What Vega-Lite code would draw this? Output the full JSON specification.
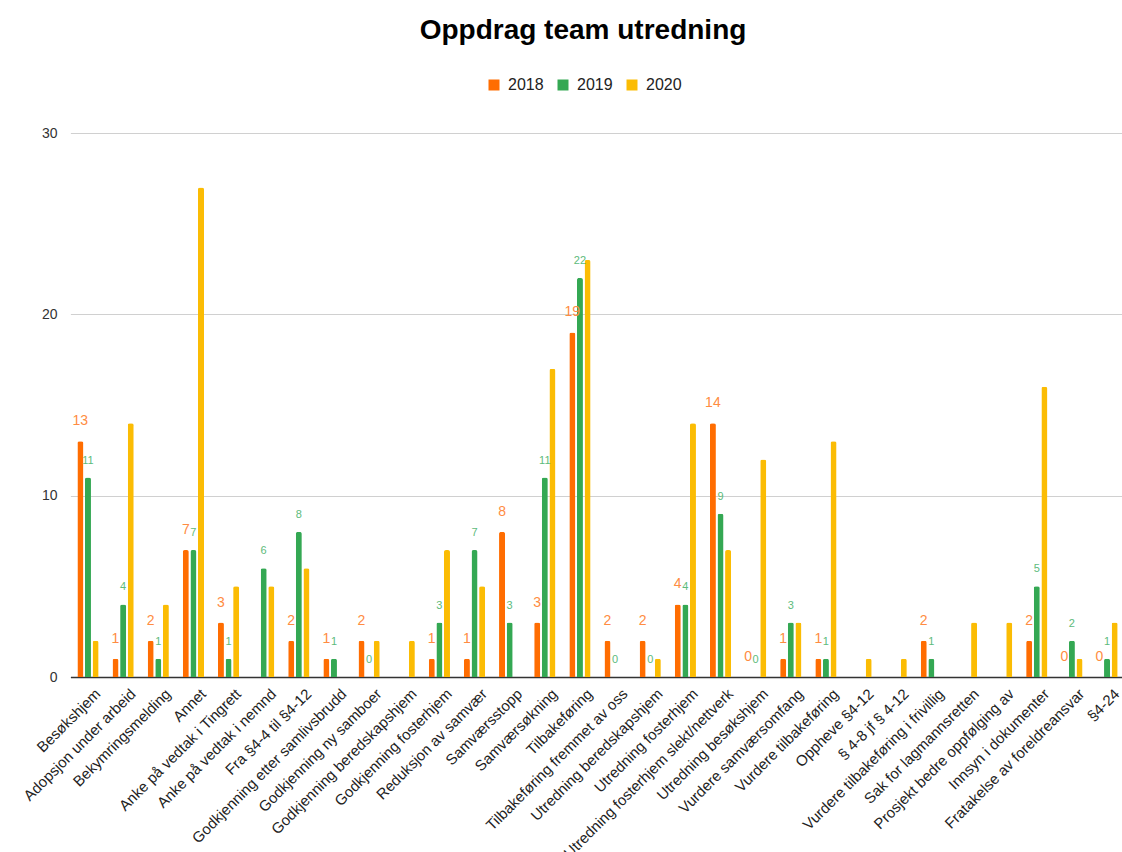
{
  "$schema": "https://vega.github.io/schema/vega-lite/v6.json",
  "autosize": "none",
  "width": 1058,
  "height": 544,
  "padding": {"left": 64, "top": 133, "right": 0, "bottom": 175},
  "background": "white",
  "config": {"font": "Liberation Sans", "view": {"stroke": null}},
  "title": {"text": "Oppdrag team utredning", "fontSize": 28, "font": "Liberation Sans", "fontWeight": "bold", "color": "#000000", "anchor": "middle", "frame": "group", "baseline": "alphabetic", "offset": 10, "dx": -10},
  "data": {"values": [
    {"kategori": "Besøkshjem", "år": "2018", "antall": 13}, {"kategori": "Besøkshjem", "år": "2019", "antall": 11}, {"kategori": "Besøkshjem", "år": "2020", "antall": 2},
    {"kategori": "Adopsjon under arbeid", "år": "2018", "antall": 1}, {"kategori": "Adopsjon under arbeid", "år": "2019", "antall": 4}, {"kategori": "Adopsjon under arbeid", "år": "2020", "antall": 14},
    {"kategori": "Bekymringsmelding", "år": "2018", "antall": 2}, {"kategori": "Bekymringsmelding", "år": "2019", "antall": 1}, {"kategori": "Bekymringsmelding", "år": "2020", "antall": 4},
    {"kategori": "Annet", "år": "2018", "antall": 7}, {"kategori": "Annet", "år": "2019", "antall": 7}, {"kategori": "Annet", "år": "2020", "antall": 27},
    {"kategori": "Anke på vedtak i Tingrett", "år": "2018", "antall": 3}, {"kategori": "Anke på vedtak i Tingrett", "år": "2019", "antall": 1}, {"kategori": "Anke på vedtak i Tingrett", "år": "2020", "antall": 5},
    {"kategori": "Anke på vedtak i nemnd", "år": "2018", "antall": null}, {"kategori": "Anke på vedtak i nemnd", "år": "2019", "antall": 6}, {"kategori": "Anke på vedtak i nemnd", "år": "2020", "antall": 5},
    {"kategori": "Fra §4-4 til §4-12", "år": "2018", "antall": 2}, {"kategori": "Fra §4-4 til §4-12", "år": "2019", "antall": 8}, {"kategori": "Fra §4-4 til §4-12", "år": "2020", "antall": 6},
    {"kategori": "Godkjenning etter samlivsbrudd", "år": "2018", "antall": 1}, {"kategori": "Godkjenning etter samlivsbrudd", "år": "2019", "antall": 1}, {"kategori": "Godkjenning etter samlivsbrudd", "år": "2020", "antall": null},
    {"kategori": "Godkjenning ny samboer", "år": "2018", "antall": 2}, {"kategori": "Godkjenning ny samboer", "år": "2019", "antall": 0}, {"kategori": "Godkjenning ny samboer", "år": "2020", "antall": 2},
    {"kategori": "Godkjenning beredskapshjem", "år": "2018", "antall": null}, {"kategori": "Godkjenning beredskapshjem", "år": "2019", "antall": null}, {"kategori": "Godkjenning beredskapshjem", "år": "2020", "antall": 2},
    {"kategori": "Godkjenning fosterhjem", "år": "2018", "antall": 1}, {"kategori": "Godkjenning fosterhjem", "år": "2019", "antall": 3}, {"kategori": "Godkjenning fosterhjem", "år": "2020", "antall": 7},
    {"kategori": "Reduksjon av samvær", "år": "2018", "antall": 1}, {"kategori": "Reduksjon av samvær", "år": "2019", "antall": 7}, {"kategori": "Reduksjon av samvær", "år": "2020", "antall": 5},
    {"kategori": "Samværsstopp", "år": "2018", "antall": 8}, {"kategori": "Samværsstopp", "år": "2019", "antall": 3}, {"kategori": "Samværsstopp", "år": "2020", "antall": null},
    {"kategori": "Samværsøkning", "år": "2018", "antall": 3}, {"kategori": "Samværsøkning", "år": "2019", "antall": 11}, {"kategori": "Samværsøkning", "år": "2020", "antall": 17},
    {"kategori": "Tilbakeføring", "år": "2018", "antall": 19}, {"kategori": "Tilbakeføring", "år": "2019", "antall": 22}, {"kategori": "Tilbakeføring", "år": "2020", "antall": 23},
    {"kategori": "Tilbakeføring fremmet av oss", "år": "2018", "antall": 2}, {"kategori": "Tilbakeføring fremmet av oss", "år": "2019", "antall": 0}, {"kategori": "Tilbakeføring fremmet av oss", "år": "2020", "antall": null},
    {"kategori": "Utredning beredskapshjem", "år": "2018", "antall": 2}, {"kategori": "Utredning beredskapshjem", "år": "2019", "antall": 0}, {"kategori": "Utredning beredskapshjem", "år": "2020", "antall": 1},
    {"kategori": "Utredning fosterhjem", "år": "2018", "antall": 4}, {"kategori": "Utredning fosterhjem", "år": "2019", "antall": 4}, {"kategori": "Utredning fosterhjem", "år": "2020", "antall": 14},
    {"kategori": "Utredning fosterhjem slekt/nettverk", "år": "2018", "antall": 14}, {"kategori": "Utredning fosterhjem slekt/nettverk", "år": "2019", "antall": 9}, {"kategori": "Utredning fosterhjem slekt/nettverk", "år": "2020", "antall": 7},
    {"kategori": "Utredning besøkshjem", "år": "2018", "antall": 0}, {"kategori": "Utredning besøkshjem", "år": "2019", "antall": 0}, {"kategori": "Utredning besøkshjem", "år": "2020", "antall": 12},
    {"kategori": "Vurdere samværsomfang", "år": "2018", "antall": 1}, {"kategori": "Vurdere samværsomfang", "år": "2019", "antall": 3}, {"kategori": "Vurdere samværsomfang", "år": "2020", "antall": 3},
    {"kategori": "Vurdere tilbakeføring", "år": "2018", "antall": 1}, {"kategori": "Vurdere tilbakeføring", "år": "2019", "antall": 1}, {"kategori": "Vurdere tilbakeføring", "år": "2020", "antall": 13},
    {"kategori": "Oppheve §4-12", "år": "2018", "antall": null}, {"kategori": "Oppheve §4-12", "år": "2019", "antall": null}, {"kategori": "Oppheve §4-12", "år": "2020", "antall": 1},
    {"kategori": "§ 4-8 jf § 4-12", "år": "2018", "antall": null}, {"kategori": "§ 4-8 jf § 4-12", "år": "2019", "antall": null}, {"kategori": "§ 4-8 jf § 4-12", "år": "2020", "antall": 1},
    {"kategori": "Vurdere tilbakeføring i frivillig", "år": "2018", "antall": 2}, {"kategori": "Vurdere tilbakeføring i frivillig", "år": "2019", "antall": 1}, {"kategori": "Vurdere tilbakeføring i frivillig", "år": "2020", "antall": null},
    {"kategori": "Sak for lagmannsretten", "år": "2018", "antall": null}, {"kategori": "Sak for lagmannsretten", "år": "2019", "antall": null}, {"kategori": "Sak for lagmannsretten", "år": "2020", "antall": 3},
    {"kategori": "Prosjekt bedre oppfølging av", "år": "2018", "antall": null}, {"kategori": "Prosjekt bedre oppfølging av", "år": "2019", "antall": null}, {"kategori": "Prosjekt bedre oppfølging av", "år": "2020", "antall": 3},
    {"kategori": "Innsyn i dokumenter", "år": "2018", "antall": 2}, {"kategori": "Innsyn i dokumenter", "år": "2019", "antall": 5}, {"kategori": "Innsyn i dokumenter", "år": "2020", "antall": 16},
    {"kategori": "Fratakelse av foreldreansvar", "år": "2018", "antall": 0}, {"kategori": "Fratakelse av foreldreansvar", "år": "2019", "antall": 2}, {"kategori": "Fratakelse av foreldreansvar", "år": "2020", "antall": 1},
    {"kategori": "§4-24", "år": "2018", "antall": 0}, {"kategori": "§4-24", "år": "2019", "antall": 1}, {"kategori": "§4-24", "år": "2020", "antall": 3}
  ]},
  "encoding": {
    "x": {"field": "kategori", "type": "nominal", "sort": null,
      "scale": {"range": [6.4, 1060.6], "paddingInner": 0, "paddingOuter": 0},
      "axis": {"title": null, "labelAngle": -45, "labelFontSize": 15, "labelColor": "#222222", "labelFont": "Liberation Sans", "ticks": false, "domain": true, "domainColor": "#333333", "domainWidth": 1.5, "labelPadding": 9, "labelOffset": 5, "labelLimit": 400}},
    "xOffset": {"field": "år", "type": "nominal", "scale": {"domain": ["2018", "2019", "2020"], "paddingInner": 0.21, "paddingOuter": 0.915}},
    "y": {"field": "antall", "type": "quantitative",
      "scale": {"domain": [0, 30], "nice": false},
      "axis": {"title": null, "values": [0, 10, 20, 30], "grid": true, "gridColor": "#d0d0d0", "domain": false, "ticks": false, "labelFontSize": 14, "labelColor": "#333333", "labelFont": "Liberation Sans", "labelPadding": 7}}
  },
  "layer": [
    {
      "mark": {"type": "bar", "cornerRadiusTopLeft": 2, "cornerRadiusTopRight": 2},
      "encoding": {
        "color": {"field": "år", "type": "nominal",
          "scale": {"domain": ["2018", "2019", "2020"], "range": ["#FF6D01", "#34A853", "#FBBC04"]},
          "legend": {"orient": "none", "legendX": 422, "legendY": -56, "direction": "horizontal", "title": null, "symbolType": "square", "symbolSize": 121, "symbolStrokeWidth": 0, "labelFontSize": 16, "labelFont": "Liberation Sans", "labelColor": "#222222", "columnPadding": 11, "labelOffset": 6}}
      }
    },
    {
      "transform": [{"filter": "datum['år'] === '2018' && datum.antall != null"}],
      "mark": {"type": "text", "baseline": "middle", "dy": -20, "fontSize": 14, "font": "Liberation Sans", "color": "#FF8C42"},
      "encoding": {"text": {"field": "antall", "type": "quantitative"}}
    },
    {
      "transform": [{"filter": "datum['år'] === '2019' && datum.antall != null"}],
      "mark": {"type": "text", "baseline": "middle", "dy": -17, "fontSize": 11, "font": "Liberation Sans", "color": "#5DBB7B"},
      "encoding": {"text": {"field": "antall", "type": "quantitative"}}
    }
  ]
}
